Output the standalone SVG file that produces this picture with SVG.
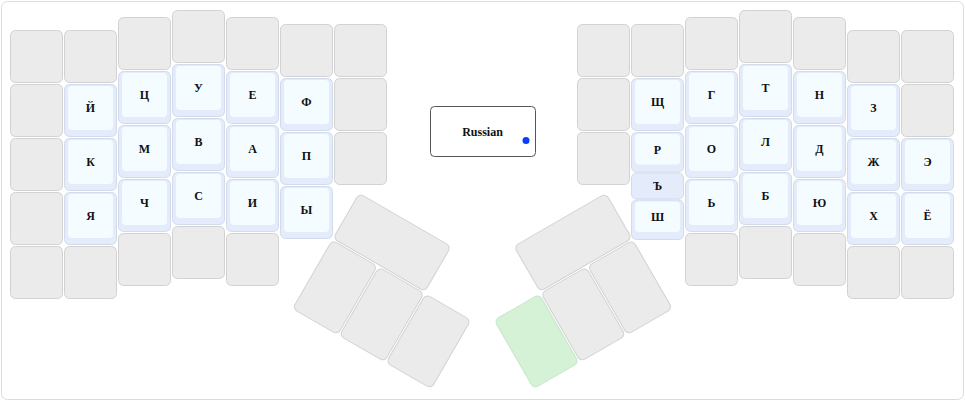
<svg xmlns="http://www.w3.org/2000/svg" width="965" height="401" viewBox="0 0 965 401">
<style>
.frame{fill:#ffffff;stroke:#dcdcdc;stroke-width:1}
.k{fill:#ebebeb;stroke:#d2d2d2;stroke-width:1}
.h{fill:#e4ebfa;stroke:#d3dbea;stroke-width:1}
.in{fill:#f5fcff}
.g{fill:#d5f1d6;stroke:#c6e6c8;stroke-width:1}
.t{font-family:"Liberation Serif","Times New Roman",serif;font-weight:bold;font-size:12px;fill:#111;text-anchor:middle}
.box{fill:#ffffff;stroke:#555555;stroke-width:1}
</style>
<rect class="frame" x="1.5" y="1.5" width="962" height="398" rx="6"/>
<g id="left-gray">
<rect class="k" x="10.5" y="30.5" width="52" height="52" rx="5"/>
<rect class="k" x="10.5" y="84.5" width="52" height="52" rx="5"/>
<rect class="k" x="10.5" y="138.5" width="52" height="52" rx="5"/>
<rect class="k" x="10.5" y="192.5" width="52" height="52" rx="5"/>
<rect class="k" x="10.5" y="246.5" width="52" height="52" rx="5"/>
<rect class="k" x="64.5" y="30.5" width="52" height="52" rx="5"/>
<rect class="k" x="64.5" y="246.5" width="52" height="52" rx="5"/>
<rect class="k" x="118.5" y="17.5" width="52" height="52" rx="5"/>
<rect class="k" x="118.5" y="233.5" width="52" height="52" rx="5"/>
<rect class="k" x="172.5" y="10.5" width="52" height="52" rx="5"/>
<rect class="k" x="172.5" y="226.5" width="52" height="52" rx="5"/>
<rect class="k" x="226.5" y="17.5" width="52" height="52" rx="5"/>
<rect class="k" x="226.5" y="233.5" width="52" height="52" rx="5"/>
<rect class="k" x="280.5" y="24.5" width="52" height="52" rx="5"/>
<rect class="k" x="334.5" y="24.5" width="52" height="52" rx="5"/>
<rect class="k" x="334.5" y="78.5" width="52" height="52" rx="5"/>
<rect class="k" x="334.5" y="132.5" width="52" height="52" rx="5"/>
</g>
<g id="key-Й"><rect class="h" x="64.5" y="84.5" width="52" height="52" rx="5"/><rect class="in" x="68" y="86" width="45" height="44" rx="4"/><text class="t" x="90.5" y="112.3">Й</text></g>
<g id="key-К"><rect class="h" x="64.5" y="138.5" width="52" height="52" rx="5"/><rect class="in" x="68" y="140" width="45" height="44" rx="4"/><text class="t" x="90.5" y="166.3">К</text></g>
<g id="key-Я"><rect class="h" x="64.5" y="192.5" width="52" height="52" rx="5"/><rect class="in" x="68" y="194" width="45" height="44" rx="4"/><text class="t" x="90.5" y="220.3">Я</text></g>
<g id="key-Ц"><rect class="h" x="118.5" y="71.5" width="52" height="52" rx="5"/><rect class="in" x="122" y="73" width="45" height="44" rx="4"/><text class="t" x="144.5" y="99.3">Ц</text></g>
<g id="key-М"><rect class="h" x="118.5" y="125.5" width="52" height="52" rx="5"/><rect class="in" x="122" y="127" width="45" height="44" rx="4"/><text class="t" x="144.5" y="153.3">М</text></g>
<g id="key-Ч"><rect class="h" x="118.5" y="179.5" width="52" height="52" rx="5"/><rect class="in" x="122" y="181" width="45" height="44" rx="4"/><text class="t" x="144.5" y="207.3">Ч</text></g>
<g id="key-У"><rect class="h" x="172.5" y="64.5" width="52" height="52" rx="5"/><rect class="in" x="176" y="66" width="45" height="44" rx="4"/><text class="t" x="198.5" y="92.3">У</text></g>
<g id="key-В"><rect class="h" x="172.5" y="118.5" width="52" height="52" rx="5"/><rect class="in" x="176" y="120" width="45" height="44" rx="4"/><text class="t" x="198.5" y="146.3">В</text></g>
<g id="key-С"><rect class="h" x="172.5" y="172.5" width="52" height="52" rx="5"/><rect class="in" x="176" y="174" width="45" height="44" rx="4"/><text class="t" x="198.5" y="200.3">С</text></g>
<g id="key-Е"><rect class="h" x="226.5" y="71.5" width="52" height="52" rx="5"/><rect class="in" x="230" y="73" width="45" height="44" rx="4"/><text class="t" x="252.5" y="99.3">Е</text></g>
<g id="key-А"><rect class="h" x="226.5" y="125.5" width="52" height="52" rx="5"/><rect class="in" x="230" y="127" width="45" height="44" rx="4"/><text class="t" x="252.5" y="153.3">А</text></g>
<g id="key-И"><rect class="h" x="226.5" y="179.5" width="52" height="52" rx="5"/><rect class="in" x="230" y="181" width="45" height="44" rx="4"/><text class="t" x="252.5" y="207.3">И</text></g>
<g id="key-Ф"><rect class="h" x="280.5" y="78.5" width="52" height="52" rx="5"/><rect class="in" x="284" y="80" width="45" height="44" rx="4"/><text class="t" x="306.5" y="106.3">Ф</text></g>
<g id="key-П"><rect class="h" x="280.5" y="132.5" width="52" height="52" rx="5"/><rect class="in" x="284" y="134" width="45" height="44" rx="4"/><text class="t" x="306.5" y="160.3">П</text></g>
<g id="key-Ы"><rect class="h" x="280.5" y="186.5" width="52" height="52" rx="5"/><rect class="in" x="284" y="188" width="45" height="44" rx="4"/><text class="t" x="306.5" y="214.3">Ы</text></g>
<g id="left-thumb" transform="translate(332,239.5) rotate(30)">
<rect class="k" x="0.5" y="-53.5" width="106" height="52" rx="5"/>
<rect class="k" x="0.5" y="0.5" width="52" height="79" rx="5"/>
<rect class="k" x="54.5" y="0.5" width="52" height="79" rx="5"/>
<rect class="k" x="108.5" y="0.5" width="52" height="79" rx="5"/>
</g>
<g id="layer-box">
<rect class="box" x="430.5" y="106.5" width="105" height="50" rx="4"/>
<text class="t" x="482.5" y="135.5">Russian</text>
<circle cx="526" cy="140.5" r="3.5" fill="#0a3cff"/>
</g>
<g id="right-gray">
<rect class="k" x="577.5" y="24.5" width="52" height="52" rx="5"/>
<rect class="k" x="577.5" y="78.5" width="52" height="52" rx="5"/>
<rect class="k" x="577.5" y="132.5" width="52" height="52" rx="5"/>
<rect class="k" x="631.5" y="24.5" width="52" height="52" rx="5"/>
<rect class="k" x="685.5" y="17.5" width="52" height="52" rx="5"/>
<rect class="k" x="685.5" y="233.5" width="52" height="52" rx="5"/>
<rect class="k" x="739.5" y="10.5" width="52" height="52" rx="5"/>
<rect class="k" x="739.5" y="226.5" width="52" height="52" rx="5"/>
<rect class="k" x="793.5" y="17.5" width="52" height="52" rx="5"/>
<rect class="k" x="793.5" y="233.5" width="52" height="52" rx="5"/>
<rect class="k" x="847.5" y="30.5" width="52" height="52" rx="5"/>
<rect class="k" x="847.5" y="246.5" width="52" height="52" rx="5"/>
<rect class="k" x="901.5" y="30.5" width="52" height="52" rx="5"/>
<rect class="k" x="901.5" y="84.5" width="52" height="52" rx="5"/>
<rect class="k" x="901.5" y="246.5" width="52" height="52" rx="5"/>
</g>
<g id="key-Щ"><rect class="h" x="631.5" y="78.5" width="52" height="52" rx="5"/><rect class="in" x="635" y="80" width="45" height="44" rx="4"/><text class="t" x="657.5" y="106.3">Щ</text></g>
<g id="key-Р"><rect class="h" x="631.5" y="132.5" width="52" height="39.5" rx="5"/><rect class="in" x="635" y="134" width="45" height="30.5" rx="4"/><text class="t" x="657.5" y="153.5">Р</text></g>
<g id="key-Ъ"><rect class="h" x="631.5" y="173" width="52" height="26" rx="5"/><text class="t" x="657.5" y="190.3">Ъ</text></g>
<g id="key-Ш"><rect class="h" x="631.5" y="200" width="52" height="39.5" rx="5"/><rect class="in" x="635" y="201.5" width="45" height="30.5" rx="4"/><text class="t" x="657.5" y="221">Ш</text></g>
<g id="key-Г"><rect class="h" x="685.5" y="71.5" width="52" height="52" rx="5"/><rect class="in" x="689" y="73" width="45" height="44" rx="4"/><text class="t" x="711.5" y="99.3">Г</text></g>
<g id="key-О"><rect class="h" x="685.5" y="125.5" width="52" height="52" rx="5"/><rect class="in" x="689" y="127" width="45" height="44" rx="4"/><text class="t" x="711.5" y="153.3">О</text></g>
<g id="key-Ь"><rect class="h" x="685.5" y="179.5" width="52" height="52" rx="5"/><rect class="in" x="689" y="181" width="45" height="44" rx="4"/><text class="t" x="711.5" y="207.3">Ь</text></g>
<g id="key-Т"><rect class="h" x="739.5" y="64.5" width="52" height="52" rx="5"/><rect class="in" x="743" y="66" width="45" height="44" rx="4"/><text class="t" x="765.5" y="92.3">Т</text></g>
<g id="key-Л"><rect class="h" x="739.5" y="118.5" width="52" height="52" rx="5"/><rect class="in" x="743" y="120" width="45" height="44" rx="4"/><text class="t" x="765.5" y="146.3">Л</text></g>
<g id="key-Б"><rect class="h" x="739.5" y="172.5" width="52" height="52" rx="5"/><rect class="in" x="743" y="174" width="45" height="44" rx="4"/><text class="t" x="765.5" y="200.3">Б</text></g>
<g id="key-Н"><rect class="h" x="793.5" y="71.5" width="52" height="52" rx="5"/><rect class="in" x="797" y="73" width="45" height="44" rx="4"/><text class="t" x="819.5" y="99.3">Н</text></g>
<g id="key-Д"><rect class="h" x="793.5" y="125.5" width="52" height="52" rx="5"/><rect class="in" x="797" y="127" width="45" height="44" rx="4"/><text class="t" x="819.5" y="153.3">Д</text></g>
<g id="key-Ю"><rect class="h" x="793.5" y="179.5" width="52" height="52" rx="5"/><rect class="in" x="797" y="181" width="45" height="44" rx="4"/><text class="t" x="819.5" y="207.3">Ю</text></g>
<g id="key-З"><rect class="h" x="847.5" y="84.5" width="52" height="52" rx="5"/><rect class="in" x="851" y="86" width="45" height="44" rx="4"/><text class="t" x="873.5" y="112.3">З</text></g>
<g id="key-Ж"><rect class="h" x="847.5" y="138.5" width="52" height="52" rx="5"/><rect class="in" x="851" y="140" width="45" height="44" rx="4"/><text class="t" x="873.5" y="166.3">Ж</text></g>
<g id="key-Х"><rect class="h" x="847.5" y="192.5" width="52" height="52" rx="5"/><rect class="in" x="851" y="194" width="45" height="44" rx="4"/><text class="t" x="873.5" y="220.3">Х</text></g>
<g id="key-Э"><rect class="h" x="901.5" y="138.5" width="52" height="52" rx="5"/><rect class="in" x="905" y="140" width="45" height="44" rx="4"/><text class="t" x="927.5" y="166.3">Э</text></g>
<g id="key-Ё"><rect class="h" x="901.5" y="192.5" width="52" height="52" rx="5"/><rect class="in" x="905" y="194" width="45" height="44" rx="4"/><text class="t" x="927.5" y="220.3">Ё</text></g>
<g id="right-thumb" transform="translate(633,239.5) rotate(-30)">
<rect class="k" x="-106.5" y="-53.5" width="106" height="52" rx="5"/>
<rect class="k" x="-52.5" y="0.5" width="52" height="79" rx="5"/>
<rect class="k" x="-106.5" y="0.5" width="52" height="79" rx="5"/>
<rect class="g" x="-160.5" y="0.5" width="52" height="79" rx="5"/>
</g>
<g id="connectors"/>
</svg>
